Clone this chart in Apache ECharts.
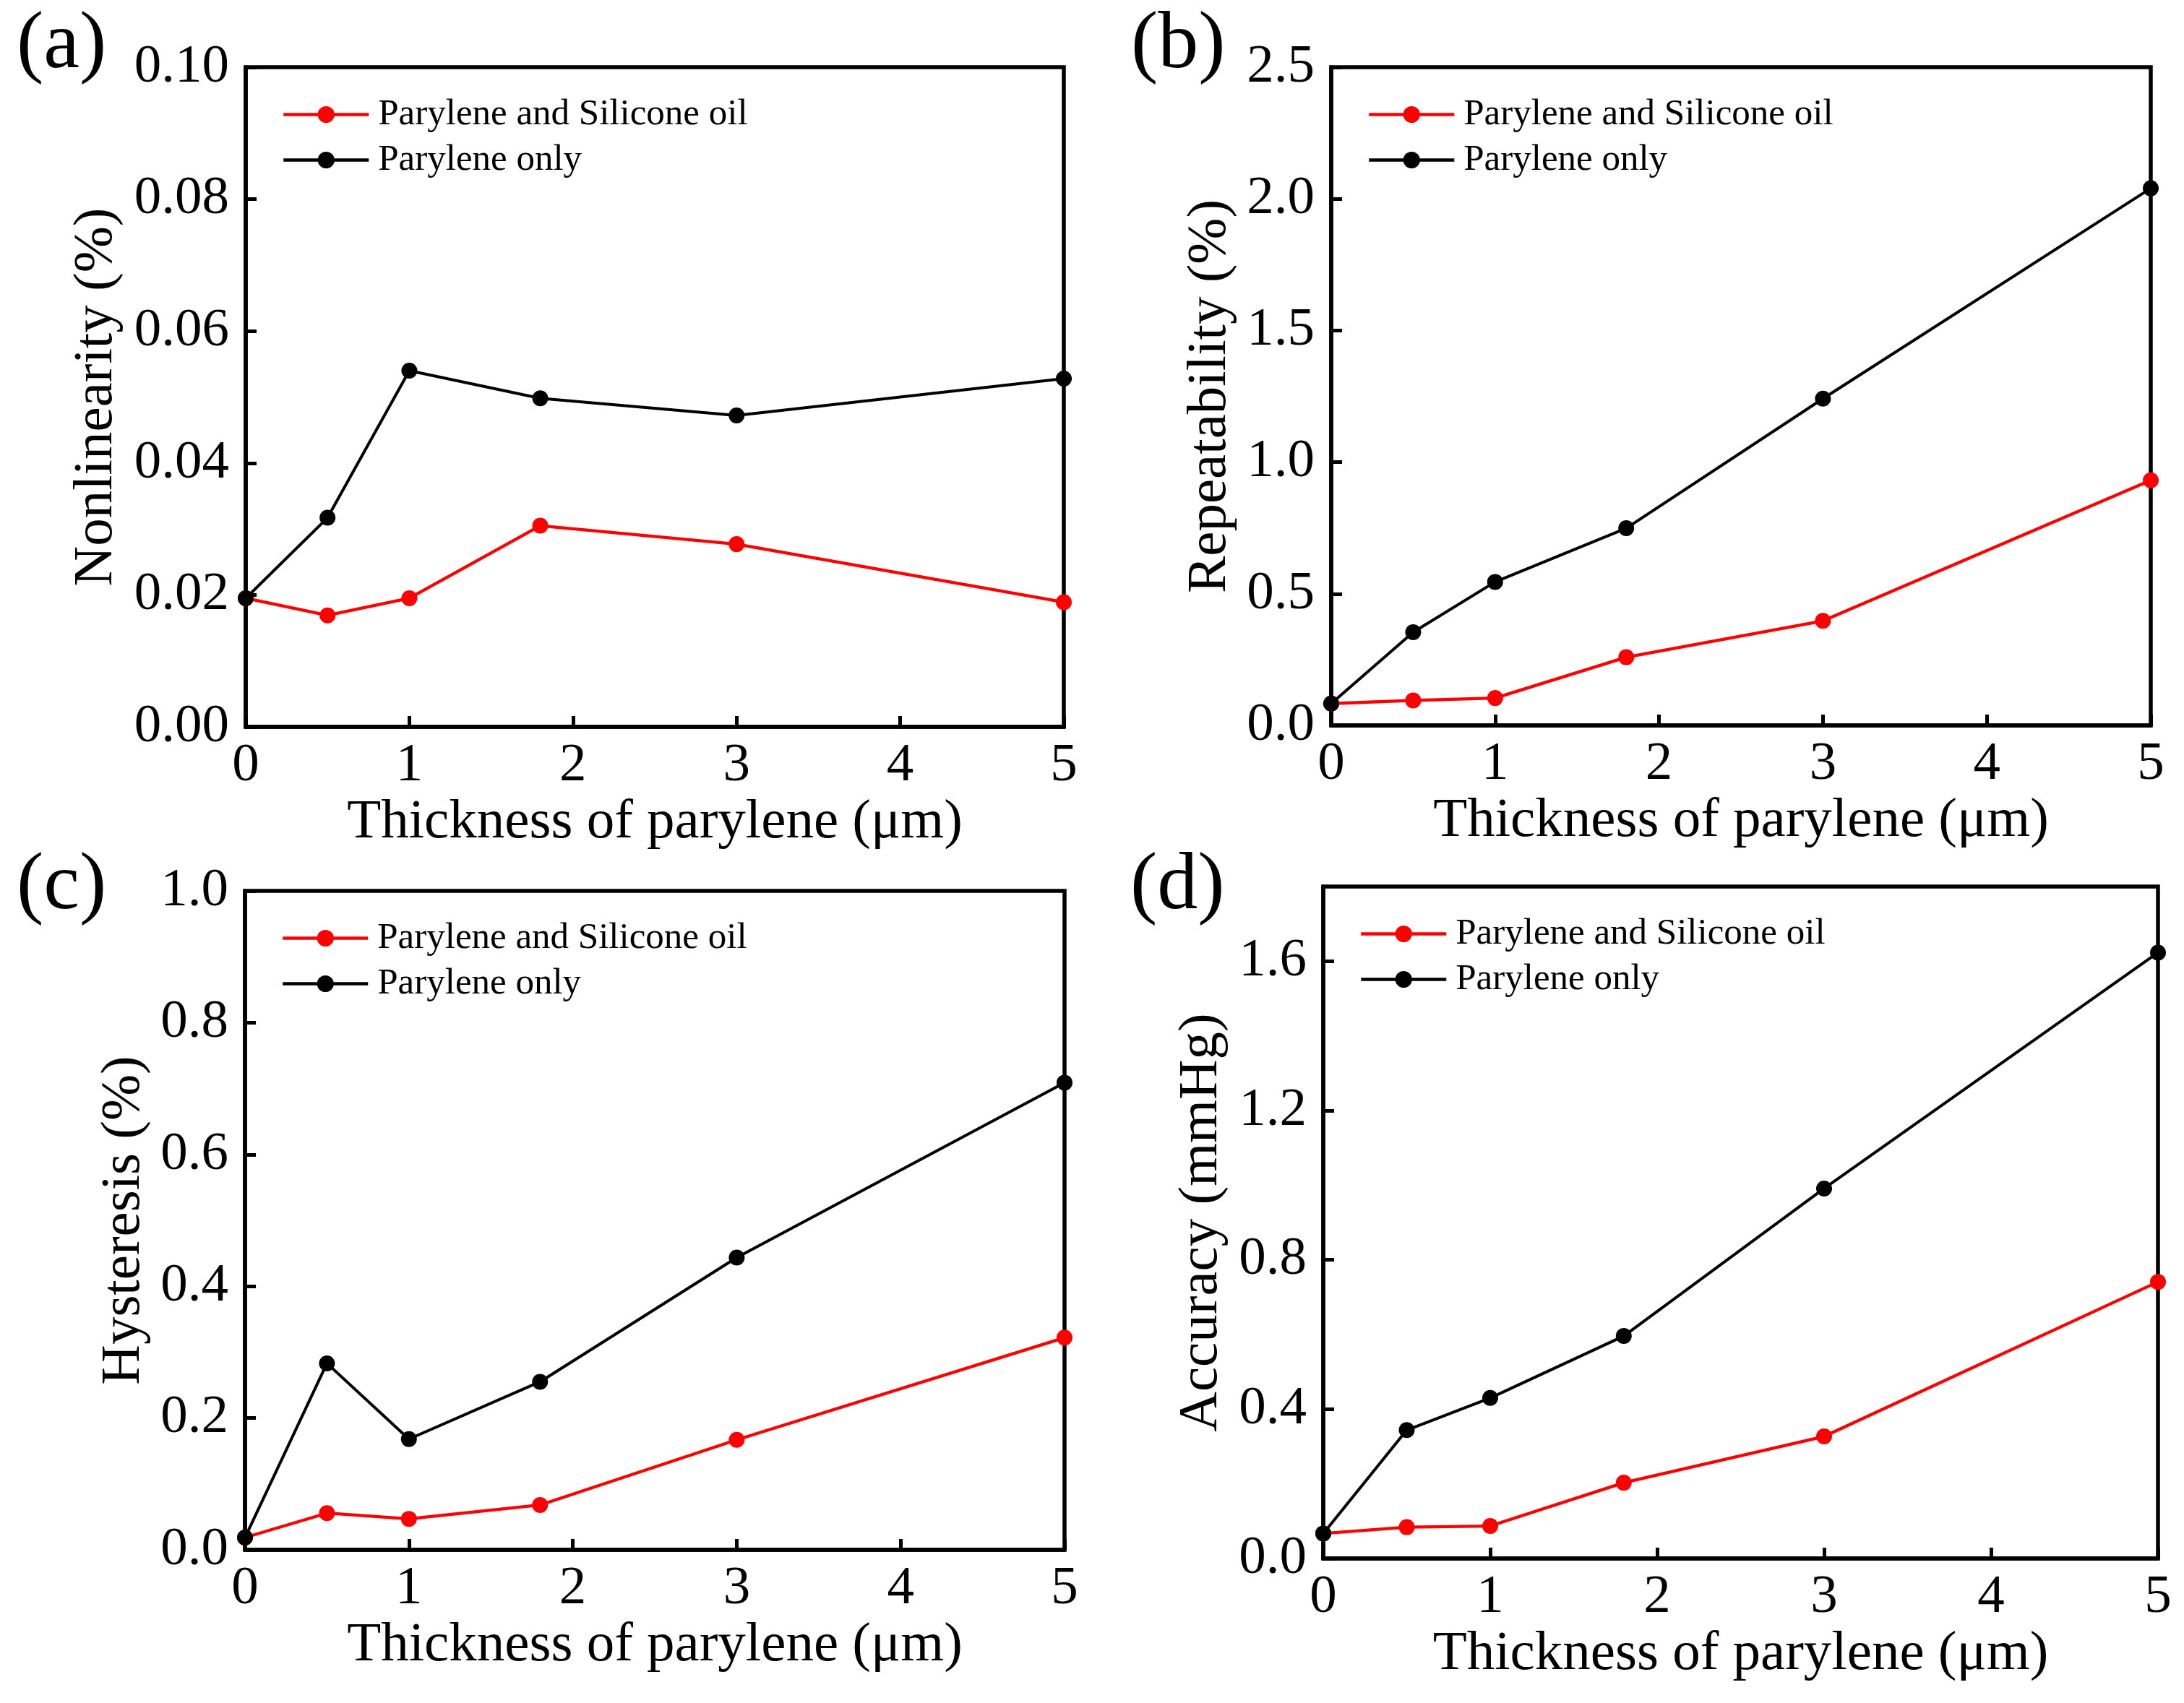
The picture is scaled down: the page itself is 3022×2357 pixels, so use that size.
<!DOCTYPE html>
<html>
<head>
<meta charset="utf-8">
<script src="https://cdn.jsdelivr.net/npm/echarts@6/dist/echarts.min.js"></script>
<style>
html,body{margin:0;padding:0;background:#fff;}
#chart{width:3022px;height:2357px;}
</style>
</head>
<body>
<div id="chart"></div>
<script>
// ---- data ----
const thickness = [0, 0.5, 1, 1.8, 3, 5];
const seriesNames = ['Parylene and Silicone oil', 'Parylene only'];
const nonlinOil  = [0.0195, 0.0169, 0.0195, 0.0305, 0.0277, 0.0189];
const nonlinOnly = [0.0195, 0.0317, 0.0540, 0.0498, 0.0472, 0.0528];
const repOil  = [0.083, 0.095, 0.104, 0.259, 0.397, 0.931];
const repOnly = [0.083, 0.354, 0.545, 0.749, 1.241, 2.040];
const hysOil  = [0.0186, 0.0557, 0.047, 0.068, 0.167, 0.322];
const hysOnly = [0.0186, 0.283, 0.168, 0.255, 0.4435, 0.709];
const accOil  = [0.067, 0.084, 0.087, 0.203, 0.327, 0.741];
const accOnly = [0.067, 0.344, 0.430, 0.596, 0.991, 1.623];
const panelLabels = ['(a)', '(b)', '(c)', '(d)'];
const yNames = ['Nonlinearity (%)', 'Repeatability (%)', 'Hysteresis (%)', 'Accuracy (mmHg)'];
const xName = 'Thickness of parylene (\u03bcm)';
const yMax = [0.10, 2.5, 1.0, 1.8];
const yInterval = [0.02, 0.5, 0.2, 0.4];
const yDecimals = [2, 1, 1, 1];
const xTicks = [0, 5, 1]; // min, max, interval

// ---- layout ----
const FONT = "'Liberation Serif', 'Times New Roman', serif";
const grids = [
  {left: 340, top: 93, width: 1132, height: 913},
  {left: 1842, top: 93, width: 1134, height: 911},
  {left: 339, top: 1233, width: 1134, height: 912},
  {left: 1831, top: 1227, width: 1155, height: 930}
];
const yNameGap = [168, 129, 129, 130];
const labelPos = [[23, 8], [1565, 8], [23, 1172], [1564, 1172]];
const pairs = [[nonlinOil, nonlinOnly], [repOil, repOnly], [hysOil, hysOnly], [accOil, accOnly]];

const option = {
  backgroundColor: '#fff',
  animation: false,
  textStyle: {fontFamily: FONT, color: '#000'},
  grid: [], xAxis: [], yAxis: [], series: [], legend: [], graphic: []
};

grids.forEach((g, i) => {
  option.grid.push(Object.assign({show: true, borderColor: '#000', borderWidth: 5.5, backgroundColor: 'transparent'}, g));
  option.xAxis.push({
    type: 'value', gridIndex: i, min: xTicks[0], max: xTicks[1], interval: xTicks[2],
    name: xName, nameLocation: 'middle', nameGap: 94,
    nameTextStyle: {fontFamily: FONT, fontSize: 77, color: '#000'},
    axisLine: {show: true, lineStyle: {color: '#000', width: 5.5}},
    axisTick: {show: true, inside: true, length: 15, lineStyle: {color: '#000', width: 5}},
    axisLabel: {fontFamily: FONT, fontSize: 75, color: '#000', margin: 17},
    splitLine: {show: false}
  });
  option.yAxis.push({
    type: 'value', gridIndex: i, min: 0, max: yMax[i], interval: yInterval[i],
    name: yNames[i], nameLocation: 'middle', nameGap: yNameGap[i],
    nameTextStyle: {fontFamily: FONT, fontSize: 77, color: '#000'},
    axisLine: {show: true, lineStyle: {color: '#000', width: 5.5}},
    axisTick: {show: true, inside: true, length: 15, lineStyle: {color: '#000', width: 5}},
    axisLabel: {fontFamily: FONT, fontSize: 75, color: '#000', margin: 23,
      showMaxLabel: i === 3 ? false : true,
      formatter: v => v.toFixed(yDecimals[i])},
    splitLine: {show: false}
  });
  const [oil, only] = pairs[i];
  option.series.push({
    name: seriesNames[0], type: 'line', xAxisIndex: i, yAxisIndex: i,
    data: thickness.map((t, k) => [t, oil[k]]),
    symbol: 'circle', symbolSize: 22,
    itemStyle: {color: '#ff0000'}, lineStyle: {color: '#ff0000', width: 4.3}
  });
  option.series.push({
    name: seriesNames[1], type: 'line', xAxisIndex: i, yAxisIndex: i,
    data: thickness.map((t, k) => [t, only[k]]),
    symbol: 'circle', symbolSize: 22,
    itemStyle: {color: '#000'}, lineStyle: {color: '#000', width: 4}
  });
  option.legend.push({
    data: seriesNames, orient: 'vertical',
    left: g.left + 50, top: g.top + 40, padding: 0,
    itemWidth: 118, itemHeight: 29, itemGap: 12,
    selectedMode: false,
    lineStyle: {width: 4.5},
    textStyle: {fontFamily: FONT, fontSize: 51, color: '#000', padding: [0, 0, 0, 8]}
  });
  option.graphic.push({
    type: 'text', left: labelPos[i][0], top: labelPos[i][1],
    style: {text: panelLabels[i], font: '112px ' + FONT, fill: '#000'}
  });
});

const chart = echarts.init(document.getElementById('chart'), null, {renderer: 'canvas'});
chart.setOption(option);
</script>
</body>
</html>
